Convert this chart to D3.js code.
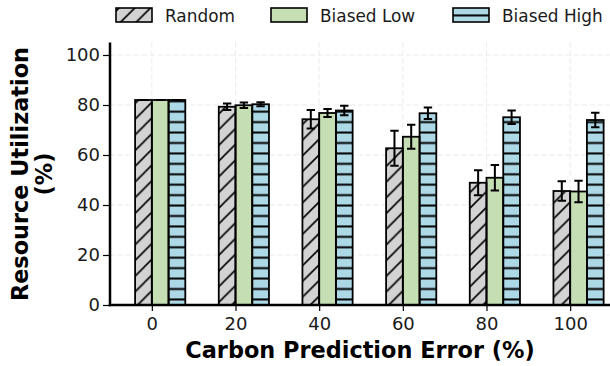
<!DOCTYPE html>
<html>
<head>
<meta charset="utf-8">
<script src="https://cdn.jsdelivr.net/npm/d3@7"></script>
<style>
  body { margin: 0; background: #fff; }
  svg { display: block; font-family: "DejaVu Sans", sans-serif; }
</style>
</head>
<body>
<div id="chart"></div>
<script>
// data
const predErrors = [0, 20, 40, 60, 80, 100];
const seriesNames = ["Random", "Biased Low", "Biased High"];
const randomMean = [82, 79.3, 74.3, 62.7, 48.9, 45.6];
const randomErr  = [0, 1.3, 3.7, 7.0, 5.0, 3.9];
const lowMean    = [82, 79.9, 76.8, 67.3, 50.9, 45.4];
const lowErr     = [0, 1.1, 1.6, 4.8, 5.1, 4.3];
const highMean   = [82, 80.3, 77.8, 76.7, 75.1, 74.0];
const highErr    = [0, 0.8, 1.9, 2.3, 2.7, 2.9];
const yTicks = [0, 20, 40, 60, 80, 100];

class GroupedBarChart {

  constructor(_config) {
    this.config = {
      parentElement: _config.parentElement,
      containerWidth: 610,
      containerHeight: 366,
      margin: {top: 42.5, right: 0, bottom: 61, left: 110}
    }
    this.initVis();
  }

  initVis() {
    let vis = this;
    const c = vis.config;

    vis.svg = d3.select(c.parentElement).append('svg')
        .attr('width', c.containerWidth)
        .attr('height', c.containerHeight);

    vis.xScale = d3.scaleLinear().domain([-10, 110]).range([110, 612]);
    vis.yScale = d3.scaleLinear().domain([0, 105]).range([305, 42.5]);
    vis.barW = 4; // in data units

    // hatch patterns
    const defs = vis.svg.append('defs');
    const ds = 15.7;
    defs.append('pattern')
        .attr('id', 'hatchDiag')
        .attr('patternUnits', 'userSpaceOnUse')
        .attr('width', ds).attr('height', ds)
        .attr('x', 3)
      .append('path')
        .attr('d', `M0,${ds} L${ds},0 M${-ds/4},${ds/4} L${ds/4},${-ds/4} M${ds*3/4},${ds*5/4} L${ds*5/4},${ds*3/4}`)
        .attr('stroke', '#000')
        .attr('stroke-width', 1.6);

    const hs = 10.43;
    defs.append('pattern')
        .attr('id', 'hatchHoriz')
        .attr('patternUnits', 'userSpaceOnUse')
        .attr('width', 20).attr('height', hs)
        .attr('y', 7.4 - hs / 2)
      .append('line')
        .attr('x1', 0).attr('x2', 20)
        .attr('y1', hs / 2).attr('y2', hs / 2)
        .attr('stroke', '#000')
        .attr('stroke-width', 2);

    vis.series = [
      {name: seriesNames[0], mean: randomMean, err: randomErr, fill: '#d3d3d3', hatch: 'url(#hatchDiag)', offset: -1},
      {name: seriesNames[1], mean: lowMean, err: lowErr, fill: '#c6deb4', hatch: null, offset: 0},
      {name: seriesNames[2], mean: highMean, err: highErr, fill: '#add8e6', hatch: 'url(#hatchHoriz)', offset: 1}
    ];

    vis.renderVis();
  }

  renderVis() {
    let vis = this;
    const x = vis.xScale, y = vis.yScale;
    const top = y.range()[1], bottom = y.range()[0];

    // grid
    const grid = vis.svg.append('g');
    grid.selectAll('.hgrid')
      .data(yTicks)
      .join('line')
        .attr('x1', 110).attr('x2', 610)
        .attr('y1', d => y(d)).attr('y2', d => y(d))
        .attr('stroke', '#ebebeb')
        .attr('stroke-width', 1)
        .attr('stroke-dasharray', '5,3');
    grid.selectAll('.vgrid')
      .data(predErrors)
      .join('line')
        .attr('x1', d => x(d)).attr('x2', d => x(d))
        .attr('y1', top).attr('y2', bottom)
        .attr('stroke', '#ebebeb')
        .attr('stroke-width', 1)
        .attr('stroke-dasharray', '5,3');

    // bars
    const rows = [];
    vis.series.forEach(s => {
      predErrors.forEach((e, i) => rows.push({s: s, e: e, v: s.mean[i], err: s.err[i]}));
    });

    const bx = d => x(d.e + (d.s.offset < 0 ? -vis.barW : (d.s.offset > 0 ? vis.barW : 0)));
    const bw = x(vis.barW) - x(0);

    const bars = vis.svg.append('g');
    bars.selectAll('.bar')
      .data(rows)
      .join('rect')
        .attr('x', bx)
        .attr('y', d => y(d.v))
        .attr('width', bw)
        .attr('height', d => bottom - y(d.v))
        .attr('fill', d => d.s.fill);
    bars.selectAll('.hatch')
      .data(rows.filter(d => d.s.hatch))
      .join('rect')
        .attr('x', bx)
        .attr('y', d => y(d.v))
        .attr('width', bw)
        .attr('height', d => bottom - y(d.v))
        .attr('fill', d => d.s.hatch);
    bars.selectAll('.edge')
      .data(rows)
      .join('rect')
        .attr('x', bx)
        .attr('y', d => y(d.v))
        .attr('width', bw)
        .attr('height', d => bottom - y(d.v))
        .attr('fill', 'none')
        .attr('stroke', '#000')
        .attr('stroke-width', 1.8);

    // error bars
    const eb = vis.svg.append('g')
        .attr('stroke', '#000')
        .attr('stroke-width', 2);
    const cx = d => bx(d) + bw / 2;
    eb.selectAll('.ev')
      .data(rows)
      .join('line')
        .attr('x1', cx).attr('x2', cx)
        .attr('y1', d => y(d.v - d.err)).attr('y2', d => y(d.v + d.err));
    eb.selectAll('.capTop')
      .data(rows)
      .join('line')
        .attr('x1', d => cx(d) - 4.2).attr('x2', d => cx(d) + 4.2)
        .attr('y1', d => y(d.v + d.err)).attr('y2', d => y(d.v + d.err));
    eb.selectAll('.capBot')
      .data(rows)
      .join('line')
        .attr('x1', d => cx(d) - 4.2).attr('x2', d => cx(d) + 4.2)
        .attr('y1', d => y(d.v - d.err)).attr('y2', d => y(d.v - d.err));

    // axes
    const yAxis = vis.svg.append('g')
        .attr('transform', 'translate(110,0)')
        .call(d3.axisLeft(y).tickValues(yTicks).tickSize(7).tickPadding(3));
    const xAxis = vis.svg.append('g')
        .attr('transform', `translate(0,${bottom})`)
        .call(d3.axisBottom(x).tickValues(predErrors).tickSize(6).tickPadding(6));
    [xAxis, yAxis].forEach(a => {
      a.select('.domain').remove();
      a.selectAll('.tick line').attr('stroke', '#000').attr('stroke-width', 1.2);
      a.selectAll('.tick text')
        .attr('fill', '#1a1a1a')
        .style('font-size', '18px')
        .style('font-family', '"DejaVu Sans", sans-serif');
    });

    // spines
    vis.svg.append('line')
        .attr('x1', 110).attr('x2', 110)
        .attr('y1', top).attr('y2', bottom + 1.2)
        .attr('stroke', '#000').attr('stroke-width', 2.5);
    vis.svg.append('line')
        .attr('x1', 108.75).attr('x2', 610)
        .attr('y1', bottom).attr('y2', bottom)
        .attr('stroke', '#000').attr('stroke-width', 2.5);

    // axis titles
    vis.svg.append('text')
        .attr('x', 360)
        .attr('y', 358)
        .attr('text-anchor', 'middle')
        .style('font-size', '22.4px')
        .style('font-weight', 'bold')
        .text('Carbon Prediction Error (%)');

    const yl = vis.svg.append('text')
        .attr('transform', 'translate(28,174) rotate(-90)')
        .attr('text-anchor', 'middle')
        .style('font-size', '22.4px')
        .style('font-weight', 'bold');
    yl.append('tspan').attr('x', 0).attr('y', 0).text('Resource Utilization');
    yl.append('tspan').attr('x', 0).attr('y', 24).text('(%)');

    // legend
    const legendX = [116, 271, 453];
    const lg = vis.svg.append('g');
    const item = lg.selectAll('.item')
      .data(vis.series)
      .join('g')
        .attr('transform', (d, i) => `translate(${legendX[i]},8)`);
    item.append('rect')
        .attr('width', 36).attr('height', 14)
        .attr('fill', d => d.fill);
    item.filter(d => d.hatch).append('rect')
        .attr('width', 36).attr('height', 14)
        .attr('fill', d => d.hatch);
    item.append('rect')
        .attr('width', 36).attr('height', 14)
        .attr('fill', 'none')
        .attr('stroke', '#000')
        .attr('stroke-width', 1.6);
    item.append('text')
        .attr('x', 49)
        .attr('y', 13.5)
        .attr('fill', '#1a1a1a')
        .style('font-size', '16.9px')
        .text(d => d.name);
  }
}

new GroupedBarChart({parentElement: '#chart'});
</script>
</body>
</html>
